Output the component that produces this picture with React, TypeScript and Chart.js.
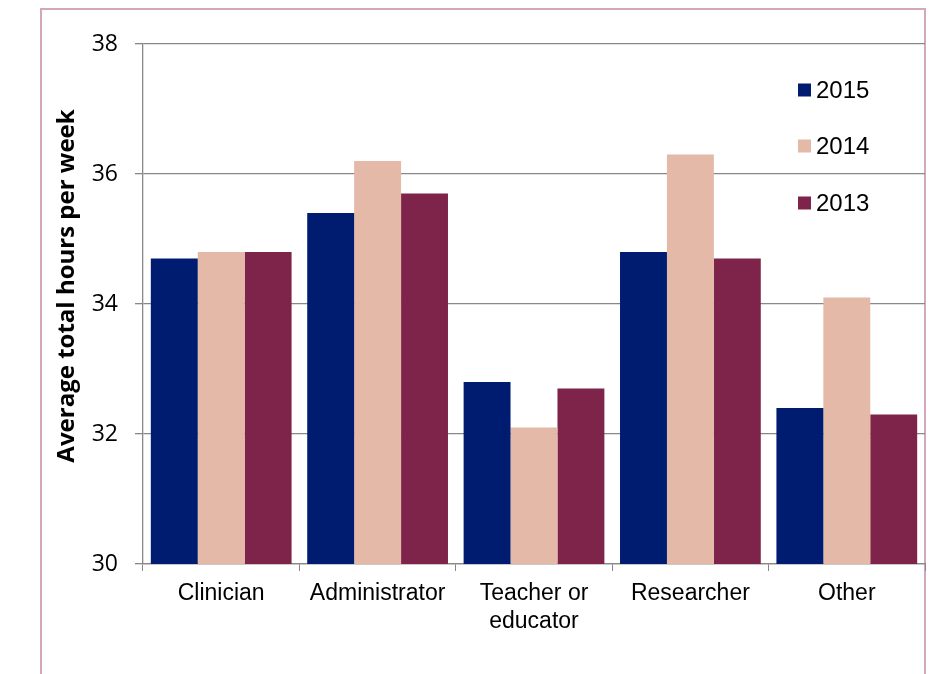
import React, { useEffect, useRef } from "react";
import { Chart, registerables } from "chart.js";

Chart.register(...registerables);

const categories: (string | string[])[] = ["Clinician", "Administrator", ["Teacher or", "educator"], "Researcher", "Other"];
const seriesLabels = ["2015", "2014", "2013"];
const values2015 = [34.7, 35.4, 32.8, 34.8, 32.4];
const values2014 = [34.8, 36.2, 32.1, 36.3, 34.1];
const values2013 = [34.8, 35.7, 32.7, 34.7, 32.3];
const seriesColors = ["#001C71", "#E4B9A8", "#7E2349"];
const yTitle = "Average total hours per week";
const yMin = 30;
const yMax = 38;
const yStep = 2;

const legendAndTitlePlugin = {
  id: "legendAndTitle",
  afterDraw(chart: any) {
    const ctx = chart.ctx;
    ctx.save();
    // y axis title
    ctx.translate(67, 286);
    ctx.rotate(-Math.PI / 2);
    ctx.font = "bold 24px 'Open Sans'";
    ctx.fillStyle = "#000";
    ctx.textAlign = "center";
    ctx.textBaseline = "middle";
    ctx.fillText(yTitle, 0, 0);
    ctx.restore();

    // legend
    ctx.save();
    const ys = [90, 146, 203];
    chart.data.datasets.forEach((ds: any, i: number) => {
      const cy = ys[i];
      ctx.fillStyle = ds.backgroundColor;
      ctx.fillRect(798, cy - 6.5, 13, 13);
      ctx.fillStyle = "#000";
      ctx.font = "24px 'Liberation Sans', Arial, sans-serif";
      ctx.textAlign = "left";
      ctx.textBaseline = "middle";
      ctx.fillText(ds.label, 816, cy + 1);
    });
    ctx.restore();
  },
};

export default function App() {
  const canvasRef = useRef<HTMLCanvasElement | null>(null);

  useEffect(() => {
    if (!canvasRef.current) return;
    const chart = new Chart(canvasRef.current, {
      type: "bar",
      data: {
        labels: categories,
        datasets: [
          { label: seriesLabels[0], data: values2015, backgroundColor: seriesColors[0] },
          { label: seriesLabels[1], data: values2014, backgroundColor: seriesColors[1] },
          { label: seriesLabels[2], data: values2013, backgroundColor: seriesColors[2] },
        ],
      },
      options: {
        animation: false,
        responsive: false,
        devicePixelRatio: 1,
        datasets: { bar: { categoryPercentage: 0.9, barPercentage: 1.0 } },
        layout: { padding: { left: 0, right: 7, top: 44, bottom: 0 } },
        plugins: { legend: { display: false }, tooltip: { enabled: false } },
        scales: {
          x: {
            grid: {
              display: true,
              drawOnChartArea: false,
              drawTicks: true,
              tickLength: 7,
              color: "#888888",
              offset: true,
            },
            border: { display: true, color: "#888888", width: 1.3 },
            ticks: {
              color: "#000",
              padding: 9,
              maxRotation: 0,
              autoSkip: false,
              font: { family: "'Liberation Sans', Arial, sans-serif", size: 23, lineHeight: 1.2 },
            },
            afterFit: (scale: any) => {
              scale.height = 110;
            },
          },
          y: {
            min: yMin,
            max: yMax,
            grid: { color: "#888888", lineWidth: 1.3, tickLength: 8, drawTicks: true },
            border: { display: true, color: "#888888", width: 1.3 },
            ticks: {
              stepSize: yStep,
              color: "#000",
              padding: 17,
              font: { family: "'Open Sans', sans-serif", size: 23 },
            },
            afterFit: (scale: any) => {
              scale.width = 143;
            },
          },
        },
      },
      plugins: [legendAndTitlePlugin],
    });
    return () => chart.destroy();
  }, []);

  return (
    <div style={{ position: "fixed", left: 0, top: 0, width: 932, height: 674, background: "#fff", overflow: "hidden" }}>
      <div
        style={{
          position: "absolute",
          left: 40,
          top: 8,
          width: 886,
          height: 720,
          border: "2px solid #D2A8BA",
          boxSizing: "border-box",
        }}
      />
      <canvas ref={canvasRef} width={932} height={674} style={{ position: "absolute", left: 0, top: 0 }} />
    </div>
  );
}
